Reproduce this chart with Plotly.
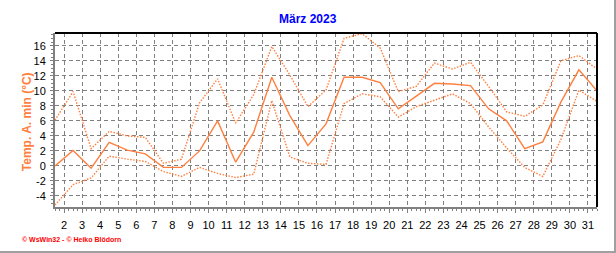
import plotly.graph_objects as go

days = [1.5, 2.5, 3.5, 4.5, 5.5, 6.5, 7.5, 8.5, 9.5, 10.5, 11.5, 12.5, 13.5, 14.5, 15.5,
        16.5, 17.5, 18.5, 19.5, 20.5, 21.5, 22.5, 23.5, 24.5, 25.5, 26.5, 27.5, 28.5,
        29.5, 30.5, 31.5]
temp_mean = [0.0, 2.05, -0.3, 3.15, 2.1, 1.6, -0.2, -0.2, 2.0, 6.0, 0.5, 4.5, 11.8, 6.7, 2.7,
             5.6, 11.8, 11.8, 11.1, 7.6, 9.3, 11.0, 10.9, 10.7, 7.6, 6.0, 2.3, 3.2,
             8.5, 12.8, 10.0]
temp_max = [6.1, 9.9, 2.3, 4.6, 4.0, 3.8, 0.35, 0.9, 8.4, 11.6, 5.7, 9.5, 15.9, 12.1, 7.9,
            10.1, 17.0, 17.6, 15.7, 9.9, 10.6, 13.7, 12.9, 13.8, 10.6, 7.2, 6.6, 8.1,
            14.0, 14.7, 12.9]
temp_min = [-5.2, -2.5, -1.6, 1.3, 0.9, 0.6, -0.75, -1.4, -0.2, -1.0, -1.55, -1.1, 8.7, 1.2, 0.35,
            0.2, 8.3, 9.6, 9.2, 6.5, 7.9, 8.7, 9.6, 8.3, 5.2, 2.4, -0.2, -1.4,
            3.5, 10.1, 8.6]
x_ticks = list(range(2, 32))
y_ticks = list(range(-4, 17, 2))

LINE = "#FF7F3F"
W, H = 616, 253
L, R, T, B = 55, 19, 33, 46
pw, ph = W - L - R, H - T - B


def px_x(p):
    return (p - L) / pw


def px_y(p):
    return (T + ph - p) / ph


fig = go.Figure()
fig.add_trace(go.Scatter(x=days, y=temp_max, mode="lines",
                         line=dict(color=LINE, width=1.4, dash="1.5px,1.5px"), showlegend=False))
fig.add_trace(go.Scatter(x=days, y=temp_min, mode="lines",
                         line=dict(color=LINE, width=1.4, dash="1.5px,1.5px"), showlegend=False))
fig.add_trace(go.Scatter(x=days, y=temp_mean, mode="lines",
                         line=dict(color=LINE, width=1.4), showlegend=False))

axis_font = dict(family="Liberation Sans, Arial", size=11, color="black")
fig.update_xaxes(range=[1.5, 31.5], tickmode="array", tickvals=x_ticks,
                 ticktext=[str(v) for v in x_ticks], tickfont=axis_font,
                 showgrid=True, gridcolor="#808080", griddash="4px,3px", gridwidth=1,
                 showline=True, linecolor="#808080", linewidth=2,
                 ticks="outside", ticklen=4, tickcolor="#808080", ticklabelstandoff=3,
                 minor=dict(dtick=0.25, ticks="outside", ticklen=2, tickcolor="#808080", showgrid=False),
                 zeroline=False, fixedrange=True)
fig.update_yaxes(range=[-5.47, 17.7], tickmode="array", tickvals=y_ticks,
                 ticktext=[str(v) for v in y_ticks], tickfont=axis_font,
                 showgrid=True, gridcolor="#808080", griddash="4px,3px", gridwidth=1,
                 showline=True, linecolor="#808080", linewidth=2,
                 ticks="outside", ticklen=3, tickcolor="#808080", ticklabelstandoff=2,
                 minor=dict(dtick=0.5, ticks="outside", ticklen=2, tickcolor="#808080", showgrid=False),
                 zeroline=False, fixedrange=True)

shapes = [
    dict(type="line", xref="paper", yref="paper", x0=0, x1=1, y0=1, y1=1,
         line=dict(color="black", width=2), layer="above"),
    dict(type="line", xref="paper", yref="paper", x0=1, x1=1, y0=0, y1=1,
         line=dict(color="black", width=2), layer="above"),
    # outer window border (right and bottom)
    dict(type="line", xref="paper", yref="paper",
         x0=px_x(615), x1=px_x(615), y0=px_y(253), y1=px_y(0),
         line=dict(color="#A0A0A0", width=2)),
    dict(type="line", xref="paper", yref="paper",
         x0=px_x(0), x1=px_x(616), y0=px_y(252), y1=px_y(252),
         line=dict(color="#A0A0A0", width=2)),
]

annotations = [
    dict(text="<b>März 2023</b>", xref="paper", yref="paper",
         x=px_x(308), y=px_y(19), xanchor="center", yanchor="middle",
         showarrow=False, font=dict(family="Liberation Sans, Arial", size=12, color="#0000FF")),
    dict(text="<b>Temp. A. min (°C)</b>", xref="paper", yref="paper",
         x=px_x(26.7), y=px_y(121.5), xanchor="center", yanchor="middle",
         textangle=-90, showarrow=False,
         font=dict(family="Liberation Sans, Arial", size=12, color=LINE)),
    dict(text="<b>© WsWin32 - © Heiko Blödorn</b>", xref="paper", yref="paper",
         x=px_x(20), y=px_y(239), xanchor="left", yanchor="middle",
         showarrow=False, font=dict(family="Liberation Sans, Arial", size=7, color="#FF0000")),
]

fig.update_layout(width=W, height=H, margin=dict(l=L, r=R, t=T, b=B),
                  paper_bgcolor="white", plot_bgcolor="white",
                  shapes=shapes, annotations=annotations, showlegend=False)

fig.write_html("out.html", config={"displayModeBar": False})
